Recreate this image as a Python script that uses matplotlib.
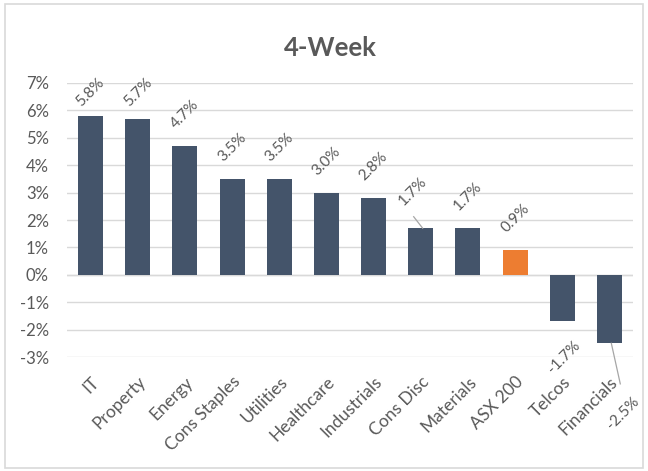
import matplotlib.pyplot as plt
from matplotlib.patches import Rectangle

plt.rcParams['font.family'] = ['Lato', 'DejaVu Sans']

sectors = ['IT', 'Property', 'Energy', 'Cons Staples', 'Utilities', 'Healthcare',
           'Industrials', 'Cons Disc', 'Materials', 'ASX 200', 'Telcos', 'Financials']
returns = [5.8, 5.7, 4.7, 3.5, 3.5, 3.0, 2.8, 1.7, 1.7, 0.9, -1.7, -2.5]
benchmark = 'ASX 200'

NAVY = '#44546A'
ORANGE = '#ED7D31'
GREY_TEXT = '#595959'
GRID = '#D9D9D9'
LEADER = '#A6A6A6'

# labels that were dragged off their bar: (dx, dy) from the bar end, plus leader end
moved = {'Cons Disc': ((-0.17, 1.33), (-0.15, 0.42)),
         'Financials': ((0.28, -2.55), (0.23, -1.48))}

fig = plt.figure(figsize=(6.48, 4.71), dpi=100)
ax = fig.add_axes([0.1034, 0.242, 0.8735, 0.5818])
fig.patches.append(Rectangle((0.008, 0.006), 0.985, 0.986, transform=fig.transFigure,
                             fill=False, edgecolor=GRID, lw=1.2))

xs = list(range(len(sectors)))
colors = [ORANGE if s == benchmark else NAVY for s in sectors]
ax.bar(xs, returns, width=0.53, color=colors, zorder=3)

ax.set_xlim(-0.5, len(sectors) - 0.5)
ax.set_ylim(-3, 7)
yt = list(range(-3, 8))
ax.set_yticks(yt)
ax.set_yticklabels([f'{t}%' for t in yt])
ax.yaxis.grid(True, color=GRID, lw=1)
ax.set_axisbelow(True)
for sp in ax.spines.values():
    sp.set_visible(False)
ax.axhline(0, color=GRID, lw=1, zorder=2)
ax.tick_params(axis='y', length=0, labelsize=12, labelcolor=GREY_TEXT, pad=13)

ax.set_xticks(xs)
ax.set_xticklabels(sectors, rotation=45, ha='right', rotation_mode='anchor')
ax.tick_params(axis='x', length=0, labelsize=12.5, labelcolor=GREY_TEXT, pad=12)

# data labels, rotated like the category axis
for i, (name, v) in enumerate(zip(sectors, returns)):
    text = f'{v:.1f}%'
    if name in moved:
        (dx, dy), (lx, ly) = moved[name]
        ax.plot([i + 0.04, i + lx], [v, v + ly], color=LEADER, lw=0.9,
                clip_on=False, zorder=4)
        lx_, ly_ = i + dx, v + dy
    elif v >= 0:
        lx_, ly_ = i, min(v + 1.15, 6.65)
    else:
        lx_, ly_ = i + 0.04, v - 1.3
    ax.text(lx_, ly_, text, rotation=45, ha='center', va='center',
            fontsize=11, color=GREY_TEXT, clip_on=False, zorder=5)

fig.text(0.51, 1 - 48 / 471, '4-Week', ha='center', va='center',
         fontsize=18.5, fontweight='bold', color=GREY_TEXT)

fig.savefig('out.png', dpi=100)
